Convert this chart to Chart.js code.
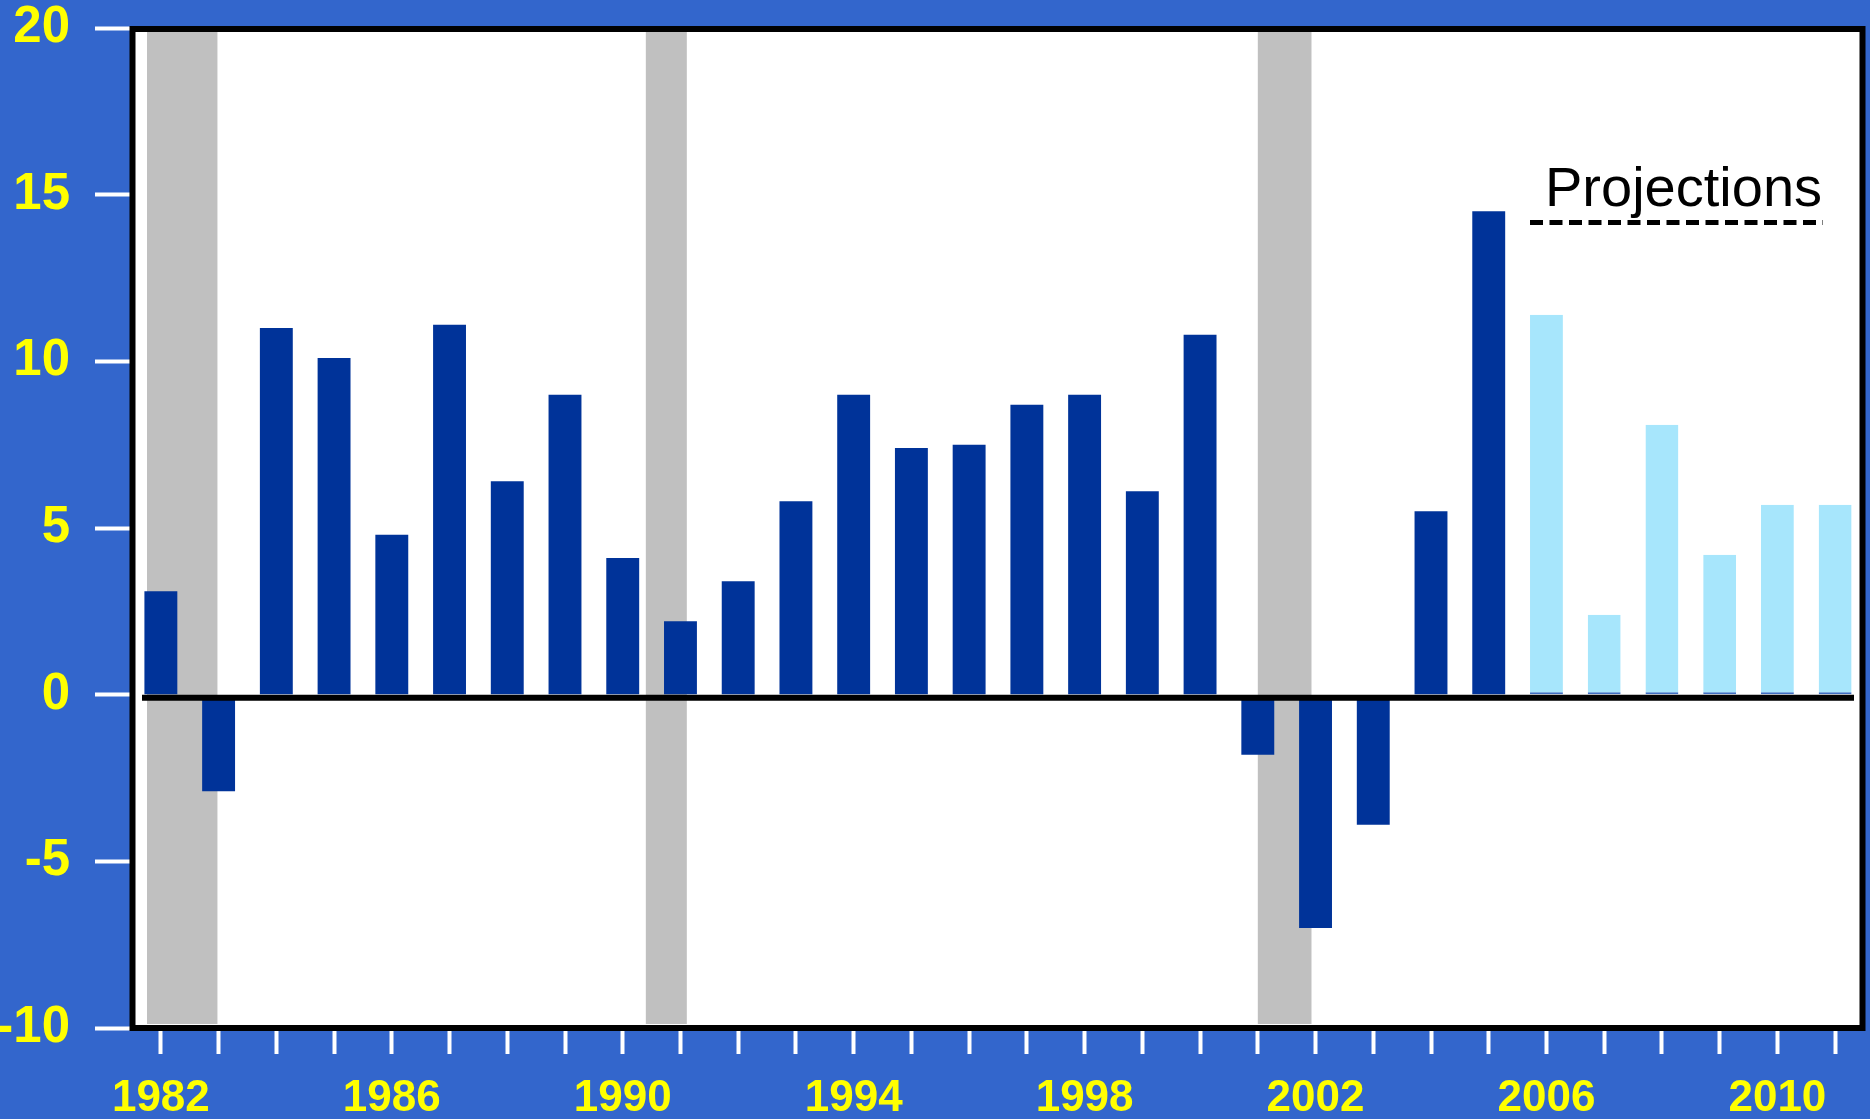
<!DOCTYPE html>
<html>
<head>
<meta charset="utf-8">
<script src="https://cdn.jsdelivr.net/npm/chart.js@4/dist/chart.umd.min.js"></script>
<style>
  html, body { margin: 0; padding: 0; background: #3366cc; }
  #chart { display: block; }
</style>
</head>
<body>
<canvas id="chart" width="1870" height="1119"></canvas>
<script>
// years on the x axis
const years = ['1982', '1983', '1984', '1985', '1986', '1987', '1988', '1989', '1990', '1991',
  '1992', '1993', '1994', '1995', '1996', '1997', '1998', '1999', '2000', '2001',
  '2002', '2003', '2004', '2005', '2006', '2007', '2008', '2009', '2010', '2011'];

// actual growth (dark bars)
const actualValues = [3.1, -2.9, 11.0, 10.1, 4.8, 11.1, 6.4, 9.0, 4.1, 2.2,
  3.4, 5.8, 9.0, 7.4, 7.5, 8.7, 9.0, 6.1, 10.8, -1.8,
  -7.0, -3.9, 5.5, 14.5, null, null, null, null, null, null];

// projections (light bars)
const projectedValues = [null, null, null, null, null, null, null, null, null, null,
  null, null, null, null, null, null, null, null, null, null,
  null, null, null, null, 11.4, 2.4, 8.1, 4.2, 5.7, 5.7];

// labelled years and y ticks
const labeledYears = ['1982', '1986', '1990', '1994', '1998', '2002', '2006', '2010'];
const yTicks = [-10, -5, 0, 5, 10, 15, 20];

// recession periods (fractional years)
const recessionStart = [1981.76, 1990.40, 2001.00];
const recessionEnd = [1982.98, 1991.11, 2001.93];

const FONT = "'Liberation Sans', Arial, Helvetica, sans-serif";

// blue page, white plot, gray recession shading
const backgroundPlugin = {
  id: 'background',
  beforeDraw(chart) {
    const { ctx, chartArea: a } = chart;
    ctx.save();
    ctx.fillStyle = '#3366cc';
    ctx.fillRect(0, 0, chart.width, chart.height);
    ctx.fillStyle = '#ffffff';
    ctx.fillRect(a.left, a.top, a.right - a.left, a.bottom - a.top);
    ctx.restore();
  },
  beforeDatasetsDraw(chart) {
    const { ctx, chartArea: a, scales } = chart;
    const x = scales.x;
    ctx.save();
    ctx.fillStyle = '#c0c0c0';
    for (let i = 0; i < recessionStart.length; i++) {
      const x1 = x.getPixelForValue(recessionStart[i] - 1982);
      const x2 = x.getPixelForValue(recessionEnd[i] - 1982);
      ctx.fillRect(x1, a.top + 4, x2 - x1, a.bottom - a.top - 8);
    }
    ctx.restore();
  }
};

// zero line, plot frame and the "Projections" note
const overlayPlugin = {
  id: 'overlay',
  afterDatasetsDraw(chart) {
    const { ctx, chartArea: a, scales } = chart;
    const y0 = scales.y.getPixelForValue(0);
    ctx.save();
    ctx.strokeStyle = '#000000';
    ctx.lineWidth = 6;
    ctx.beginPath();
    ctx.moveTo(a.left + 10, y0 + 3);
    ctx.lineTo(a.right - 10, y0 + 3);
    ctx.stroke();

    ctx.lineWidth = 6;
    ctx.strokeRect(a.left + 0.5, a.top + 1, a.right - a.left - 2, a.bottom - a.top - 1);

    ctx.fillStyle = '#000000';
    ctx.font = '56px ' + FONT;
    ctx.textAlign = 'left';
    ctx.textBaseline = 'alphabetic';
    ctx.fillText('Projections', 1545, 206);

    ctx.lineWidth = 5;
    ctx.setLineDash([13, 6.5]);
    ctx.beginPath();
    ctx.moveTo(1530, 222.5);
    ctx.lineTo(1823, 222.5);
    ctx.stroke();
    ctx.restore();
  }
};

new Chart(document.getElementById('chart'), {
  type: 'bar',
  data: {
    labels: years,
    datasets: [{
      label: 'Actual',
      data: actualValues,
      backgroundColor: '#003399',
      grouped: false,
      barPercentage: 0.57,
      categoryPercentage: 1
    }, {
      label: 'Projections',
      data: projectedValues,
      backgroundColor: '#a7e6fc',
      borderColor: '#3f6fc4',
      borderWidth: { top: 0, left: 0, right: 0, bottom: 2 },
      borderSkipped: false,
      grouped: false,
      barPercentage: 0.57,
      categoryPercentage: 1
    }]
  },
  options: {
    responsive: false,
    animation: false,
    layout: { padding: { top: 28, right: 6, left: 0, bottom: 0 } },
    plugins: {
      legend: { display: false },
      tooltip: { enabled: false }
    },
    scales: {
      x: {
        offset: true,
        grid: {
          offset: false,
          drawOnChartArea: false,
          drawTicks: true,
          tickLength: 26,
          tickWidth: 4,
          tickColor: '#ffffff'
        },
        border: { display: false },
        ticks: {
          autoSkip: false,
          maxRotation: 0,
          padding: 18,
          color: '#ffff00',
          font: { family: FONT, size: 44, weight: 'bold' },
          callback: function (value) {
            const lab = this.getLabelForValue(value);
            return labeledYears.includes(lab) ? lab : '';
          }
        },
        afterFit(scale) {
          scale.height = 91;
          scale.paddingLeft = 0;
          scale.paddingRight = 0;
        }
      },
      y: {
        min: -10,
        max: 20,
        afterBuildTicks(scale) {
          scale.ticks = yTicks.map(v => ({ value: v }));
        },
        grid: {
          drawOnChartArea: false,
          drawTicks: true,
          tickLength: 37,
          tickWidth: 4,
          tickColor: '#ffffff'
        },
        border: { display: false },
        ticks: {
          padding: 25,
          color: '#ffff00',
          font: { family: FONT, size: 51, weight: 'bold' }
        },
        afterFit(scale) {
          scale.width = 132;
          scale.paddingTop = 0;
          scale.paddingBottom = 0;
        }
      }
    }
  },
  plugins: [backgroundPlugin, overlayPlugin]
});
</script>
</body>
</html>
